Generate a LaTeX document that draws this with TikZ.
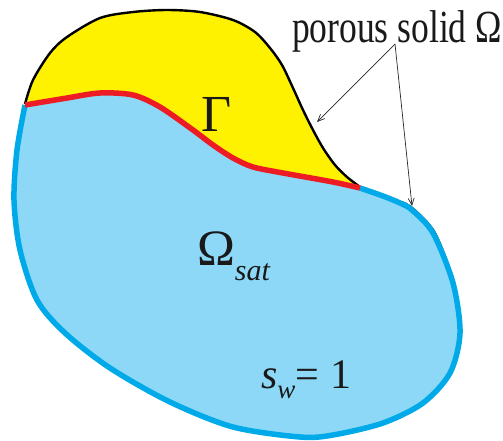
\documentclass[tikz,border=0pt]{standalone}
\usepackage{fontspec}
\usepackage{graphicx}
\setmainfont{Liberation Serif}
\usetikzlibrary{arrows.meta}
\definecolor{yel}{RGB}{255,242,0}
\definecolor{skyfill}{RGB}{141,216,246}
\definecolor{skyline}{RGB}{0,170,232}
\definecolor{redline}{RGB}{237,28,36}
\begin{document}
\begin{tikzpicture}[x=1pt,y=-1pt,
  txt/.style={inner sep=0pt,outer sep=0pt,anchor=base west,text=black!90},
  arr/.style={draw=black!85,line width=0.7pt,-{Straight Barb[length=7pt,width=6pt]}},
  edge/.style={line width=5.5pt},
  ]
\useasboundingbox (0,0) rectangle (503,440);
\coordinate (A) at (25,104);
\coordinate (B) at (360,187);
% yellow region
\fill[yel] plot[smooth] coordinates {(25,104) (33,80) (50,53) (67,37) (100,18) (133,12) (167,10) (200,12) (233,20) (255,32) (270,48) (282,65) (293,88) (303,110) (313,130) (323,148) (335,165) (347,177) (360,187)}
  -- plot[smooth] coordinates {(360,188) (333,182) (283,173) (253,167) (233,158) (213,145) (193,130) (160,107) (133,95) (100,93) (67,98) (25,105)} -- cycle;
% blue region
\fill[skyfill] plot[smooth] coordinates {(25,105) (67,98) (100,93) (133,95) (160,107) (193,130) (213,145) (233,158) (253,167) (283,173) (333,182) (360,188)}
  -- plot[smooth] coordinates {(360,188) (383,196) (400,203) (412,210) (433,233) (453,283) (460,333) (450,373) (423,403) (383,423) (333,435) (300,437) (233,427) (170,402) (110,368) (65,333) (37,300) (20,250) (14,200) (17,150) (25,105)} -- cycle;
% boundaries
\draw[black,line width=2.4pt] plot[smooth] coordinates {(25,104) (33,80) (50,53) (67,37) (100,18) (133,12) (167,10) (200,12) (233,20) (255,32) (270,48) (282,65) (293,88) (303,110) (313,130) (323,148) (335,165) (347,177) (360,187)};
\draw[black!85,line width=1.6pt,shift={(1.6,-1.4)}] plot[smooth] coordinates {(400,203) (412,210) (433,233) (450,275) (456,300)};
\draw[skyline,edge] plot[smooth] coordinates {(360,188) (383,196) (400,203) (412,210) (433,233) (453,283) (460,333) (450,373) (423,403) (383,423) (333,435) (300,437) (233,427) (170,402) (110,368) (65,333) (37,300) (20,250) (14,200) (17,150) (25,105)};
\draw[redline,edge] plot[smooth] coordinates {(25,105) (67,98) (100,93) (133,95) (160,107) (193,130) (213,145) (233,158) (253,167) (283,173) (333,182) (360,188)};
% labels
\node[txt] (gamma) at (201,131) {\fontsize{52}{52}\selectfont Γ};
\node[txt] (omsat) at (197,265) {\fontsize{51}{51}\selectfont Ω\raisebox{-15pt}{\fontsize{30}{30}\selectfont\itshape sat}};
\node[txt] (sw) at (261,388) {\fontsize{42}{42}\selectfont\itshape s\raisebox{-10pt}{\fontsize{27}{27}\selectfont\itshape w}\upshape{}=\hspace{11pt}1};
\node[txt] (lbl) at (292,42) {\resizebox{210pt}{\height}{\fontsize{46}{46}\selectfont porous solid Ω}};
% arrows
\coordinate (src) at (395,44);
\coordinate (e1) at (317,122);
\coordinate (e2) at (412,206);
\draw[arr] (src) -- (e1);
\draw[arr] (src) -- (e2);
\end{tikzpicture}
\end{document}
